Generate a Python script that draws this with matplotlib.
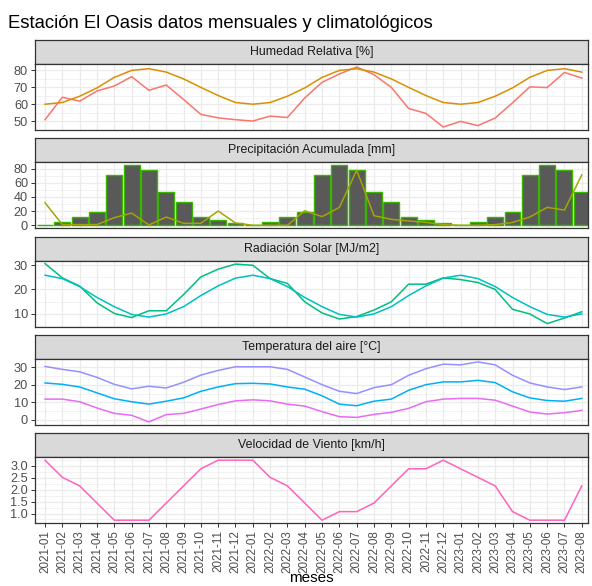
import matplotlib.pyplot as plt
import numpy as np
from matplotlib.ticker import FixedLocator

plt.rcParams['font.family'] = ['Liberation Sans', 'DejaVu Sans']

meses = [f"{a}-{m:02d}" for a in (2021, 2022, 2023) for m in range(1, 13)][:32]

# Humedad Relativa [%]
hum_mensual = [51.0, 64.2, 61.9, 67.9, 70.8, 76.3, 68.3, 71.4, 62.9, 54.1, 52.1, 51.0,
               50.2, 53.1, 52.3, 63.8, 73.0, 77.9, 82.0, 77.5, 70.0, 57.6, 54.7, 46.7,
               50.0, 47.5, 52.0, 60.9, 70.3, 69.9, 78.8, 75.5]
hum_clima = [60.1, 61.1, 64.8, 69.7, 75.9, 80.0, 81.0, 79.0, 75.0, 70.0, 65.2, 61.1,
             60.1, 61.1, 64.8, 69.7, 75.9, 80.0, 81.0, 79.0, 75.0, 70.0, 65.2, 61.1,
             60.1, 61.1, 64.8, 69.7, 75.9, 80.0, 81.0, 79.0]

# Precipitacion Acumulada [mm]
pp_clima = [0.8, 4.2, 11.2, 19.2, 71.0, 84.7, 78.6, 47.7, 33.2, 11.2, 7.5, 3.7,
            0.8, 4.2, 11.2, 19.2, 71.0, 84.7, 78.6, 47.7, 33.2, 11.2, 7.5, 3.7,
            0.8, 4.2, 11.2, 19.2, 71.0, 84.7, 78.6, 47.7]
pp_mensual = [31.8, 1.0, 1.0, 1.0, 10.8, 17.3, 0.5, 11.7, 2.8, 2.8, 20.1, 3.3,
              0.0, 0.0, 0.0, 20.6, 12.2, 25.3, 77.7, 13.6, 8.4, 6.1, 4.2, 1.0,
              0.0, 0.0, 1.0, 4.0, 11.7, 25.3, 21.5, 71.0]

# Radiacion Solar [MJ/m2]
rad_mensual = [30.7, 24.8, 21.4, 14.5, 10.1, 8.4, 11.2, 11.2, 17.9, 25.2, 28.4, 30.5,
               30.0, 24.5, 22.5, 14.9, 10.3, 7.8, 8.8, 11.5, 14.9, 22.2, 22.2, 24.8,
               24.1, 22.9, 20.0, 11.8, 9.9, 5.9, 8.2, 10.8]
rad_clima = [25.9, 24.5, 21.2, 16.7, 12.9, 9.7, 8.6, 9.9, 12.9, 17.5, 21.5, 24.7,
             25.9, 24.5, 21.2, 16.7, 12.9, 9.7, 8.6, 9.9, 12.9, 17.5, 21.5, 24.7,
             25.9, 24.5, 21.2, 16.7, 12.9, 9.7, 8.6, 9.9]

# Temperatura del aire [°C]
tmax = [30.6, 28.9, 27.5, 24.3, 20.3, 17.7, 19.2, 18.2, 21.5, 25.6, 28.3, 30.4,
        30.4, 30.4, 28.9, 24.5, 20.1, 16.3, 15.0, 18.4, 20.1, 25.5, 29.3, 31.9,
        31.5, 33.2, 31.5, 25.5, 21.1, 18.8, 17.3, 18.8]
tmed = [21.1, 20.3, 18.8, 15.4, 12.0, 10.3, 8.9, 10.6, 12.5, 16.3, 18.8, 20.7,
        20.9, 20.5, 18.8, 17.5, 13.7, 8.9, 8.0, 10.6, 11.8, 16.9, 20.1, 21.7,
        21.7, 22.6, 21.3, 16.0, 12.5, 11.0, 10.6, 12.2]
tmin = [11.8, 11.8, 10.3, 6.7, 3.6, 2.5, -1.3, 2.9, 3.6, 6.1, 8.7, 10.8,
        11.4, 10.8, 8.9, 7.8, 4.6, 1.7, 1.3, 3.0, 4.2, 6.5, 10.3, 11.8,
        12.2, 12.2, 11.2, 7.8, 4.4, 3.2, 4.0, 5.3]

# Velocidad de Viento [km/h]
viento = [3.24, 2.52, 2.16, 1.44, 0.72, 0.72, 0.72, 1.44, 2.16, 2.88, 3.24, 3.24,
          3.24, 2.52, 2.16, 1.44, 0.72, 1.08, 1.08, 1.44, 2.16, 2.88, 2.88, 3.24,
          2.88, 2.52, 2.16, 1.08, 0.72, 0.72, 0.72, 2.16]

x = np.arange(len(meses))

W, H = 592, 586
LEFT, RIGHT = 35, 588
TOP0, STEP, STRIP_H, PLOT_H = 40, 98.3, 24, 66
LW = 1.1

fig = plt.figure(figsize=(W / 100, H / 100), dpi=100)


def panel(k, titulo, major, minor):
    top = TOP0 + k * STEP
    sax = fig.add_axes([LEFT / W, 1 - (top + STRIP_H) / H, (RIGHT - LEFT) / W, STRIP_H / H])
    sax.set_facecolor('#D9D9D9')
    sax.set_xticks([])
    sax.set_yticks([])
    for s in sax.spines.values():
        s.set_color('#333333')
        s.set_linewidth(0.9)
    sax.text(0.5, 0.5, titulo, ha='center', va='center', fontsize=8.9, color='#1A1A1A',
             transform=sax.transAxes)

    ax = fig.add_axes([LEFT / W, 1 - (top + STRIP_H + PLOT_H) / H, (RIGHT - LEFT) / W, PLOT_H / H])
    ax.set_axisbelow(True)
    ax.use_sticky_edges = False
    ax.margins(y=0.05)
    ax.set_xlim(-0.58, 31.36)
    ax.xaxis.set_major_locator(FixedLocator(x))
    ax.yaxis.set_major_locator(FixedLocator(major))
    ax.yaxis.set_minor_locator(FixedLocator(minor))
    ax.grid(which='major', color='#EBEBEB', lw=0.9)
    ax.grid(which='minor', axis='y', color='#EBEBEB', lw=0.45)
    ax.tick_params(axis='y', which='major', length=3, width=0.7, color='#333333',
                   labelsize=9.2, labelcolor='#4D4D4D', pad=2)
    ax.tick_params(axis='y', which='minor', length=0)
    ax.tick_params(axis='x', length=0, labelbottom=False)
    for s in ax.spines.values():
        s.set_color('#333333')
        s.set_linewidth(0.9)
    return ax


ax1 = panel(0, 'Humedad Relativa [%]', [50, 60, 70, 80], [45, 55, 65, 75])
ax1.plot(x, hum_mensual, color='#F8766D', lw=LW)
ax1.plot(x, hum_clima, color='#D89000', lw=LW)

ax2 = panel(1, 'Precipitación Acumulada [mm]', [0, 20, 40, 60, 80], [10, 30, 50, 70])
ax2.bar(x, pp_clima, width=0.92, color='#595959', edgecolor='#39B600', lw=1.0)
ax2.plot(x, pp_mensual, color='#A3A500', lw=LW)

ax3 = panel(2, 'Radiación Solar [MJ/m2]', [10, 20, 30], [5, 15, 25])
ax3.plot(x, rad_mensual, color='#00BF7D', lw=LW)
ax3.plot(x, rad_clima, color='#00BFC4', lw=LW)

ax4 = panel(3, 'Temperatura del aire [°C]', [0, 10, 20, 30], [5, 15, 25])
ax4.plot(x, tmax, color='#9590FF', lw=LW)
ax4.plot(x, tmed, color='#00B0F6', lw=LW)
ax4.plot(x, tmin, color='#E76BF3', lw=LW)

ax5 = panel(4, 'Velocidad de Viento [km/h]', [1.0, 1.5, 2.0, 2.5, 3.0],
            [0.75, 1.25, 1.75, 2.25, 2.75, 3.25])
ax5.plot(x, viento, color='#FF62BC', lw=LW)
ax5.set_yticklabels(['1.0', '1.5', '2.0', '2.5', '3.0'])
ax5.set_xticks(x)
ax5.set_xticklabels(meses, rotation=90)
ax5.tick_params(axis='x', length=3, width=0.7, color='#333333', labelbottom=True,
                labelsize=8.4, labelcolor='#4D4D4D', pad=2)

fig.text(8 / W, 1 - 28 / H, 'Estación El Oasis datos mensuales y climatológicos',
         fontsize=13.3, color='black', ha='left', va='baseline')
fig.text((LEFT + RIGHT) / 2 / W, 1 - 571 / H, 'meses', fontsize=11, ha='center', va='top')

fig.savefig('out.png', dpi=100)
